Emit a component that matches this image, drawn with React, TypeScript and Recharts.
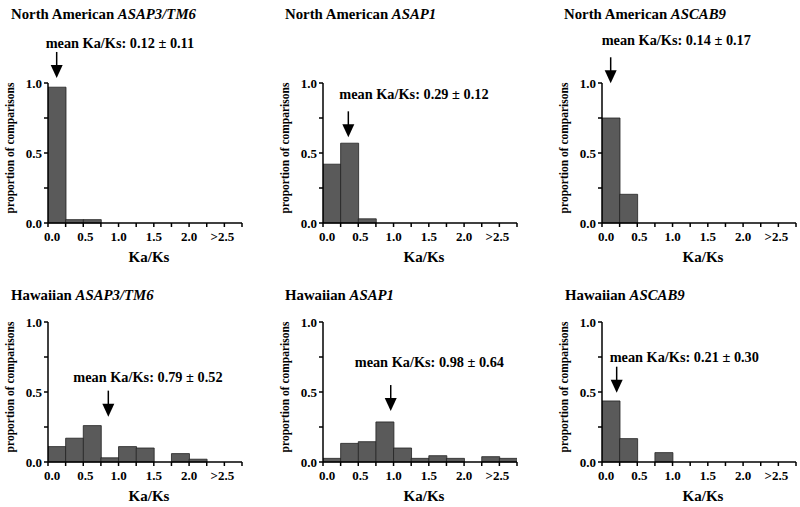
import { BarChart, Bar, XAxis, YAxis, ReferenceDot } from "recharts"

// histogram bins of Ka/Ks, width 0.25 (last bin holds everything above 2.5)
const bins = [
	"0.00-0.25", "0.25-0.50", "0.50-0.75", "0.75-1.00", "1.00-1.25", "1.25-1.50",
	"1.50-1.75", "1.75-2.00", "2.00-2.25", "2.25-2.50", ">2.50",
]
const binCenters = [0.125, 0.375, 0.625, 0.875, 1.125, 1.375, 1.625, 1.875, 2.125, 2.375, 2.625]

// proportion of comparisons per bin
const naAsap3 = [0.97, 0.024, 0.024, 0, 0, 0, 0, 0, 0, 0, 0]
const naAsap1 = [0.42, 0.57, 0.03, 0, 0, 0, 0, 0, 0, 0, 0]
const naAscab9 = [0.75, 0.205, 0, 0, 0, 0, 0, 0, 0, 0, 0]
const hwAsap3 = [0.11, 0.17, 0.26, 0.03, 0.11, 0.1, 0, 0.06, 0.02, 0, 0]
const hwAsap1 = [0.026, 0.133, 0.145, 0.286, 0.1, 0.026, 0.045, 0.026, 0, 0.038, 0.026]
const hwAscab9 = [0.436, 0.167, 0, 0.067, 0, 0, 0, 0, 0, 0, 0]

// axis ticks and their labels
const xTicks = [0, 0.25, 0.5, 0.75, 1, 1.25, 1.5, 1.75, 2, 2.25, 2.5, 2.75]
const xTickLabels = ["0.0", "", "0.5", "", "1.0", "", "1.5", "", "2.0", "", ">2.5", ""]
const yTicks = [0, 0.25, 0.5, 0.75, 1]
const yTickLabels = ["0.0", "", "0.5", "", "1.0"]

const FONT = "'Liberation Serif', 'Times New Roman', serif"
const colAxisX = [48, 323, 602]
const rowPlotTop = [83, 322]
const PLOT_H = 140

type Panel = {
	region: string
	gene: string
	values: number[]
	mean: string
	arrow: [number, number]
	textOffset: [number, number]
	col: number
	row: number
	titleX: number
}

const panels: Panel[] = [
	{ region: "North American ", gene: "ASAP3/TM6", values: naAsap3, mean: "mean Ka/Ks: 0.12 ± 0.11", arrow: [0.123, 1.036], textOffset: [-11, -30], col: 0, row: 0, titleX: 11 },
	{ region: "North American ", gene: "ASAP1", values: naAsap1, mean: "mean Ka/Ks: 0.29 ± 0.12", arrow: [0.359, 0.612], textOffset: [-9, -38], col: 1, row: 0, titleX: 285 },
	{ region: "North American ", gene: "ASCAB9", values: naAscab9, mean: "mean Ka/Ks: 0.14 ± 0.17", arrow: [0.123, 0.998], textOffset: [-9, -38], col: 2, row: 0, titleX: 564 },
	{ region: "Hawaiian ", gene: "ASAP3/TM6", values: hwAsap3, mean: "mean Ka/Ks: 0.79 ± 0.52", arrow: [0.855, 0.324], textOffset: [-35, -35], col: 0, row: 1, titleX: 11 },
	{ region: "Hawaiian ", gene: "ASAP1", values: hwAsap1, mean: "mean Ka/Ks: 0.98 ± 0.64", arrow: [0.96, 0.364], textOffset: [-36, -44], col: 1, row: 1, titleX: 285 },
	{ region: "Hawaiian ", gene: "ASCAB9", values: hwAscab9, mean: "mean Ka/Ks: 0.21 ± 0.30", arrow: [0.208, 0.495], textOffset: [-7, -31], col: 2, row: 1, titleX: 565 },
]

function XTick(props: any) {
	const { x, y, payload } = props
	const idx = xTicks.indexOf(payload.value)
	const label = idx >= 0 ? xTickLabels[idx] : ""
	const dx = payload.value === 0 ? 4 : payload.value === 0.5 ? 2 : payload.value === 2.5 ? -2 : 0
	return (
		<text x={x + dx} y={y + 12} textAnchor="middle" fontSize={13} fontWeight="bold" fontFamily={FONT} fill="#000" stroke="none">
			{label}
		</text>
	)
}

function YTick(props: any) {
	const { x, y, payload } = props
	const idx = yTicks.indexOf(payload.value)
	return (
		<text x={x} y={y + 4.5} textAnchor="end" fontSize={13} fontWeight="bold" fontFamily={FONT} fill="#000" stroke="none">
			{idx >= 0 ? yTickLabels[idx] : ""}
		</text>
	)
}

function MeanArrow({ cx, cy, text, dx, dy }: { cx: number; cy: number; text: string; dx: number; dy: number }) {
	return (
		<g>
			<line x1={cx} y1={cy - 26} x2={cx} y2={cy - 12} stroke="#000" strokeWidth={1.5} />
			<polygon points={`${cx - 6},${cy - 13} ${cx + 6},${cy - 13} ${cx},${cy}`} fill="#000" />
			<text x={cx + dx} y={cy + dy} fontSize={14.3} fontWeight="bold" fontFamily={FONT} fill="#000">
				{text}
			</text>
		</g>
	)
}

function Histogram({ p }: { p: Panel }) {
	const rows = bins.map((bin, i) => ({ bin, x: binCenters[i], value: p.values[i] }))
	const left = colAxisX[p.col] - 48
	const top = rowPlotTop[p.row] - 83
	return (
		<div style={{ position: "absolute", left, top }}>
			<BarChart
				width={250}
				height={270}
				data={rows}
				margin={{ top: 83, right: 8, left: 18, bottom: 0 }}
				barCategoryGap={0}
				barGap={0}
			>
				<XAxis
					dataKey="x"
					type="number"
					domain={[0, 2.75]}
					ticks={xTicks}
					interval={0}
					allowDataOverflow
					height={47}
					stroke="#000"
					strokeWidth={1.5}
					tickSize={4}
					tickMargin={2}
					axisLine
					tickLine
					tick={<XTick />}
				/>
				<YAxis
					domain={[0, 1]}
					ticks={yTicks}
					interval={0}
					width={30}
					stroke="#000"
					strokeWidth={1.5}
					tickSize={4}
					tickMargin={2}
					axisLine
					tickLine
					tick={<YTick />}
				/>
				<Bar dataKey="value" fill="#5a5a5a" stroke="#222" strokeWidth={0.8} isAnimationActive={false} />
				<ReferenceDot
					x={p.arrow[0]}
					y={p.arrow[1]}
					r={0}
					ifOverflow="visible"
					shape={(s: any) => (
						<MeanArrow cx={s.cx} cy={s.cy} text={p.mean} dx={p.textOffset[0]} dy={p.textOffset[1]} />
					)}
				/>
			</BarChart>
		</div>
	)
}

export default function App() {
	return (
		<div
			style={{
				position: "absolute",
				left: 0,
				top: 0,
				width: 800,
				height: 507,
				overflow: "hidden",
				background: "#fff",
				fontFamily: FONT,
			}}
		>
			{panels.map((p, i) => (
				<Histogram key={i} p={p} />
			))}
			<svg width={800} height={507} style={{ position: "absolute", left: 0, top: 0, pointerEvents: "none" }}>
				{panels.map((p, i) => {
					const ax = colAxisX[p.col]
					const pt = rowPlotTop[p.row]
					const titleY = p.row === 0 ? 18.5 : 300
					return (
						<g key={i} fontFamily={FONT} fontWeight="bold" fill="#000">
							<text x={p.titleX} y={titleY} fontSize={14.8}>
								{p.region}
								<tspan fontStyle="italic">{p.gene}</tspan>
							</text>
							<text x={ax + 101} y={pt + PLOT_H + 39} fontSize={15} textAnchor="middle">
								Ka/Ks
							</text>
							<text
								x={ax - 34}
								y={pt + PLOT_H / 2 - 5}
								fontSize={11.5}
								textAnchor="middle"
								transform={`rotate(-90 ${ax - 34} ${pt + PLOT_H / 2 - 5})`}
							>
								proportion of comparisons
							</text>
						</g>
					)
				})}
			</svg>
		</div>
	)
}
